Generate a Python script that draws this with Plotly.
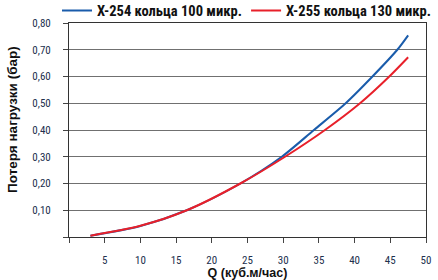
import plotly.graph_objects as go

# Data
q_254 = [3, 10, 16.5, 24, 29.8, 34.3, 38.75, 42.5, 45.98, 47.5]
p_254 = [0.005, 0.041, 0.10, 0.20, 0.30, 0.40, 0.50, 0.60, 0.70, 0.754]
q_255 = [3, 10, 16.5, 24, 30.25, 35.85, 40.76, 44.86, 47.5]
p_255 = [0.005, 0.042, 0.10, 0.20, 0.30, 0.40, 0.50, 0.60, 0.672]

name_254 = "X-254 кольца 100 микр."
name_255 = "X-255 кольца 130 микр."

x_tickvals = [0, 5, 10, 15, 20, 25, 30, 35, 40, 45, 50]
x_ticktext = ["", "5", "10", "15", "20", "25", "30", "35", "40", "45", "50"]
y_tickvals = [0, 0.1, 0.2, 0.3, 0.4, 0.5, 0.6, 0.7, 0.8]
y_ticktext = ["", "0,10", "0,20", "0,30", "0,40", "0,50", "0,60", "0,70", "0,80"]

x_title = "Q (куб.м/час)"
y_title = "Потеря нагрузки (бар)"

fig = go.Figure()
fig.add_trace(go.Scatter(x=q_254, y=p_254, mode="lines", name=name_254, legend="legend",
                         line=dict(color="#1a5cab", width=2, shape="spline", smoothing=0.8)))
fig.add_trace(go.Scatter(x=q_255, y=p_255, mode="lines", name=name_255, legend="legend2",
                         line=dict(color="#e8202a", width=2, shape="spline", smoothing=0.8)))

tickfont = dict(family="Roboto Condensed", size=11, color="#22304e")
fig.update_xaxes(range=[0, 50], tickvals=x_tickvals, ticktext=x_ticktext,
                 showline=True, linecolor="#333", linewidth=1, mirror=True,
                 ticks="outside", ticklen=5, tickcolor="#444", ticklabelstandoff=8,
                 showgrid=False, zeroline=False, tickfont=tickfont,
                 title=dict(text=x_title, standoff=6,
                            font=dict(family="Liberation Sans", size=12.5, color="#111", weight="bold")))
fig.update_yaxes(range=[0, 0.8], tickvals=y_tickvals, ticktext=y_ticktext,
                 showline=True, linecolor="#333", linewidth=1, mirror=True,
                 ticks="outside", ticklen=5, tickcolor="#444", ticklabelstandoff=10,
                 showgrid=True, gridcolor="#707070", gridwidth=1, zeroline=False,
                 tickfont=tickfont)

fig.add_annotation(text=y_title, xref="paper", yref="paper", x=-0.16, y=0.551,
                   xanchor="center", yanchor="middle", textangle=-90, showarrow=False,
                   font=dict(family="Liberation Sans", size=13.5, color="#111", weight="bold"))

legfont = dict(family="Roboto Condensed", size=14.5, color="#111", weight="bold")
fig.update_layout(
    width=438, height=280,
    margin=dict(l=69, r=12, t=23, b=43, autoexpand=False),
    paper_bgcolor="white", plot_bgcolor="white",
    showlegend=True,
    legend=dict(orientation="h", x=-0.0336, xanchor="left", y=1.058, yanchor="middle",
                font=legfont, bgcolor="rgba(0,0,0,0)", borderwidth=0),
    legend2=dict(orientation="h", x=0.496, xanchor="left", y=1.058, yanchor="middle",
                 font=legfont, bgcolor="rgba(0,0,0,0)", borderwidth=0),
)

fig.write_html("out.html")
